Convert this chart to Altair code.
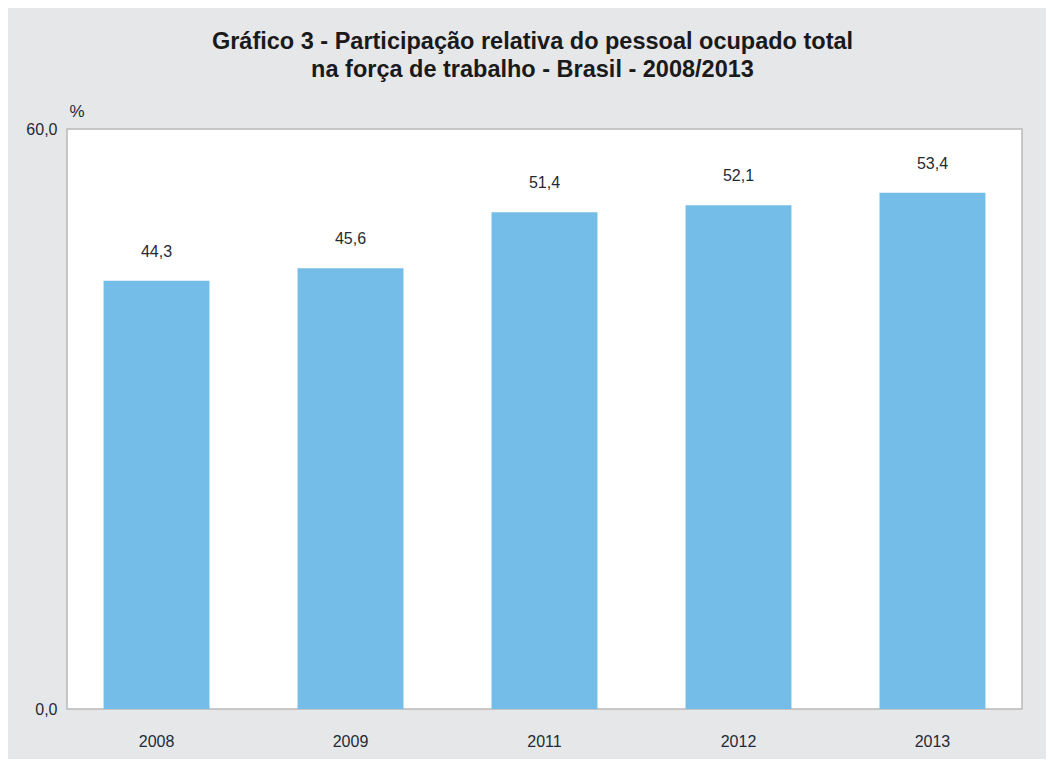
import altair as alt
import pandas as pd

years = ["2008", "2009", "2011", "2012", "2013"]
values = [44.3, 45.6, 51.4, 52.1, 53.4]
labels = ["44,3", "45,6", "51,4", "52,1", "53,4"]

df = pd.DataFrame({"ano": years, "valor": values, "rotulo": labels})

FONT = "Liberation Sans"
TXT = "#1f2a36"

x = alt.X("ano:N", sort=years, title=None,
          scale=alt.Scale(paddingInner=0.454, paddingOuter=0.1885),
          axis=alt.Axis(labelAngle=0, ticks=False, domain=False, labelPadding=24,
                        labelFontSize=16, labelColor=TXT, labelFont=FONT))
y = alt.Y("valor:Q", scale=alt.Scale(domain=[0, 60], nice=False, zero=True),
          axis=alt.Axis(values=[0, 60], grid=False, ticks=False, domain=False,
                        labelExpr="replace(format(datum.value, '.1f'), '.', ',')",
                        labelPadding=10, labelFontSize=16, labelColor=TXT, labelFont=FONT,
                        title="%", titleAngle=0, titleAlign="left", titleBaseline="bottom",
                        titleX=2, titleY=-9, titleFontSize=17, titleFontWeight="normal",
                        titleColor=TXT, titleFont=FONT))

bars = alt.Chart(df).mark_bar(color="#74bde8").encode(x=x, y=y)
text = alt.Chart(df).mark_text(dy=-29, fontSize=16, color=TXT, font=FONT, baseline="middle").encode(
    x=alt.X("ano:N", sort=years), y="valor:Q", text="rotulo:N")

chart = (bars + text).properties(
    width=955, height=580,
    autosize=alt.AutoSizeParams(type="none"),
    padding={"left": 59, "top": 121, "right": 24, "bottom": 50},
    background="#e6e7e9",
    title=alt.TitleParams(
        ["Gráfico 3 - Participação relativa do pessoal ocupado total",
         "na força de trabalho - Brasil - 2008/2013"],
        anchor="middle", dx=-12, offset=21, fontSize=23.5, fontWeight="bold",
        font=FONT, color="#1a1a1a", lineHeight=28)
).configure_view(stroke="#b9b9b9", strokeWidth=1.5, fill="white")

chart.save("out.html", embed_options={"renderer": "svg", "actions": False})
